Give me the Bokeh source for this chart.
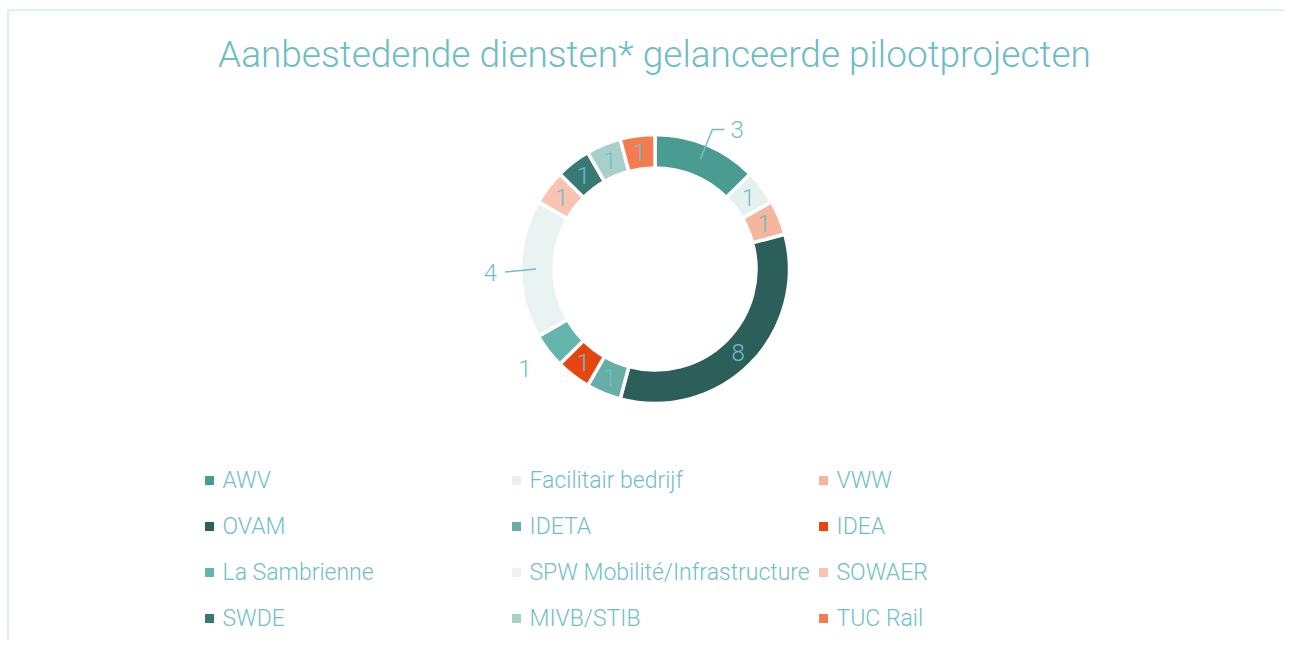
import math
from bokeh.plotting import figure
from bokeh.models import Range1d, ColumnDataSource
from bokeh.core.properties import value
from bokeh.embed import file_html
from bokeh.resources import INLINE

# ---- data ----
categories = ["AWV", "Facilitair bedrijf", "VWW", "OVAM", "IDETA", "IDEA",
              "La Sambrienne", "SPW Mobilité/Infrastructure", "SOWAER", "SWDE",
              "MIVB/STIB", "TUC Rail"]
values = [3, 1, 1, 8, 1, 1, 1, 4, 1, 1, 1, 1]
colors = ["#4a9b92", "#e5f1ef", "#f6b59d", "#2d5f5a", "#67aea7", "#e5450f",
          "#64b6ad", "#e9f3f1", "#f9c2b1", "#387a73", "#a8d0cb", "#f47c51"]
label_mode = ["leader", "inside", "inside", "inside", "inside", "inside",
              "outside", "leader", "inside", "inside", "inside", "inside"]
title_text = "Aanbestedende diensten* gelanceerde pilootprojecten"

W, H = 1285, 640
TXT = "#72bec7"
FONT = "Roboto Light, Roboto"

p = figure(width=W, height=H, output_backend="svg", toolbar_location=None,
           x_range=Range1d(0, W), y_range=Range1d(0, H), min_border=0)
p.axis.visible = False
p.grid.visible = False
p.outline_line_color = None
p.background_fill_color = "white"

def X(rx):
    return rx

def Y(ry):
    return H - ry

# border (top + left)
p.line([X(7.5), X(7.5), W], [0, Y(9.8), Y(9.8)], line_color="#dcefef", line_width=2)

# title
p.text(x=[X(654)], y=[Y(54)], text=[title_text], text_align="center",
       text_baseline="middle", text_color="#6dbcc5", text_font=value(FONT),
       text_font_size="37px")

# donut
cx, cy = X(654.5), Y(268.5)
r_out, r_in = 134.5, 101.0
total = sum(values)
starts, ends, mids = [], [], []
cum = 0
for v in values:
    a0 = math.pi / 2 - cum / total * 2 * math.pi
    cum += v
    a1 = math.pi / 2 - cum / total * 2 * math.pi
    starts.append(a0)
    ends.append(a1)
    mids.append((a0 + a1) / 2)

src = ColumnDataSource(dict(x=[cx] * len(values), y=[cy] * len(values),
                            start=starts, end=ends, color=colors))
p.annular_wedge(x="x", y="y", inner_radius=r_in, outer_radius=r_out,
                start_angle="start", end_angle="end", direction="clock",
                fill_color="color", line_color="white", line_width=3.5,
                source=src)

# data labels
r_mid = (r_in + r_out) / 2
lx, ly, lt, la = [], [], [], []
for v, m, mode in zip(values, mids, label_mode):
    c, s = math.cos(m), math.sin(m)
    if mode == "inside":
        lx.append(cx + r_mid * c); ly.append(cy + r_mid * s)
        lt.append(str(v)); la.append("center")
    elif mode == "outside":
        lx.append(cx + 164 * c); ly.append(cy + 164 * s)
        lt.append(str(v)); la.append("center")
    else:
        x0, y0 = cx + 119 * c, cy + 119 * s
        x1, y1 = cx + 150 * c, cy + 150 * s + (1 if c > 0 else -3)
        if c > 0:
            x2 = x1 + 12
            p.line([x0, x1, x2], [y0, y1, y1], line_color=TXT, line_width=1.5)
            lx.append(x2 + 6); ly.append(y1); la.append("left")
        else:
            x2 = x1
            p.line([x0, x1], [y0, y1], line_color=TXT, line_width=1.5)
            lx.append(x2 - 8); ly.append(y1); la.append("right")
        lt.append(str(v))

p.text(x=lx, y=ly, text=lt, text_align=la, text_baseline="middle",
       text_color=TXT, text_font=value(FONT), text_font_size="24px")

# legend (3 columns, row-wise)
col_sq = [X(209), X(516), X(823)]
col_tx = [X(222), X(529), X(836)]
row_y = [Y(480), Y(526), Y(572), Y(618)]
sx, sy, tx, ty = [], [], [], []
for i, cat in enumerate(categories):
    r, c = divmod(i, 3)
    sx.append(col_sq[c]); sy.append(row_y[r])
    tx.append(col_tx[c]); ty.append(row_y[r])
p.scatter(x=sx, y=sy, marker="square", size=9, fill_color=colors,
          line_color=None)
p.text(x=tx, y=ty, text=categories, text_align="left", text_baseline="middle",
       text_color=TXT, text_font=value(FONT), text_font_size="23px")

open("out.html", "w").write(file_html(p, INLINE))
